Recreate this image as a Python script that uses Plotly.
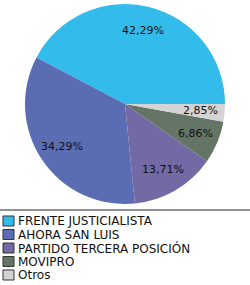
import math
import plotly.graph_objects as go

labels = ["FRENTE JUSTICIALISTA", "AHORA SAN LUIS", "PARTIDO TERCERA POSICIÓN", "MOVIPRO", "Otros"]
values = [42.29, 34.29, 13.71, 6.86, 2.85]
colors = ["#33BBEB", "#5A6DB3", "#7269A5", "#647566", "#D4D4D4"]
value_text = [f"{v:.2f}%".replace(".", ",") for v in values]

W, H = 250, 285
CX, CY, R = 125, 104, 100          # pie centre / radius in pixels
LABEL_R = 0.76                      # label radius as fraction of R
FONT = "Verdana, DejaVu Sans, sans-serif"

total = sum(values)
# first slice begins at 3 o'clock and runs counter-clockwise
rotation = 90 - 360 * values[0] / total

fig = go.Figure()
fig.add_trace(go.Pie(
    labels=labels,
    values=values,
    textinfo="none",
    marker=dict(colors=colors, line=dict(width=0)),
    sort=False,
    direction="counterclockwise",
    rotation=rotation,
    showlegend=False,
    hoverinfo="label+percent",
    domain=dict(x=[(CX - R) / W, (CX + R) / W], y=[(H - CY - R) / H, (H - CY + R) / H]),
))

annotations = []
cum = 0.0
for v, t in zip(values, value_text):
    mid = (cum + v / 2) / total * 2 * math.pi  # math angle from 3 o'clock, ccw
    cum += v
    px = CX + LABEL_R * R * math.cos(mid)
    py = CY - LABEL_R * R * math.sin(mid)
    annotations.append(dict(text=t, xref="paper", yref="paper", x=px / W, y=1 - py / H,
                            xanchor="center", yanchor="middle", showarrow=False,
                            font=dict(family=FONT, size=11, color="#111111")))

shapes = [dict(type="line", xref="paper", yref="paper", x0=0, x1=1,
               y0=1 - 210 / H, y1=1 - 210 / H, line=dict(color="#222222", width=1))]
row0, step = 221, 13.5
for i, (lab, col) in enumerate(zip(labels, colors)):
    yc = row0 + i * step
    shapes.append(dict(type="rect", xref="paper", yref="paper",
                       x0=3 / W, x1=14 / W, y0=1 - (yc - 5) / H, y1=1 - (yc + 5) / H,
                       fillcolor=col, line=dict(color="#333333", width=1)))
    annotations.append(dict(text=lab, xref="paper", yref="paper", x=16 / W, y=1 - yc / H,
                            xanchor="left", yanchor="middle", showarrow=False,
                            font=dict(family=FONT, size=12, color="#111111")))

fig.update_layout(
    width=W, height=H,
    margin=dict(l=0, r=0, t=0, b=0),
    paper_bgcolor="white", plot_bgcolor="white",
    shapes=shapes, annotations=annotations,
)
fig.write_html("out.html")
